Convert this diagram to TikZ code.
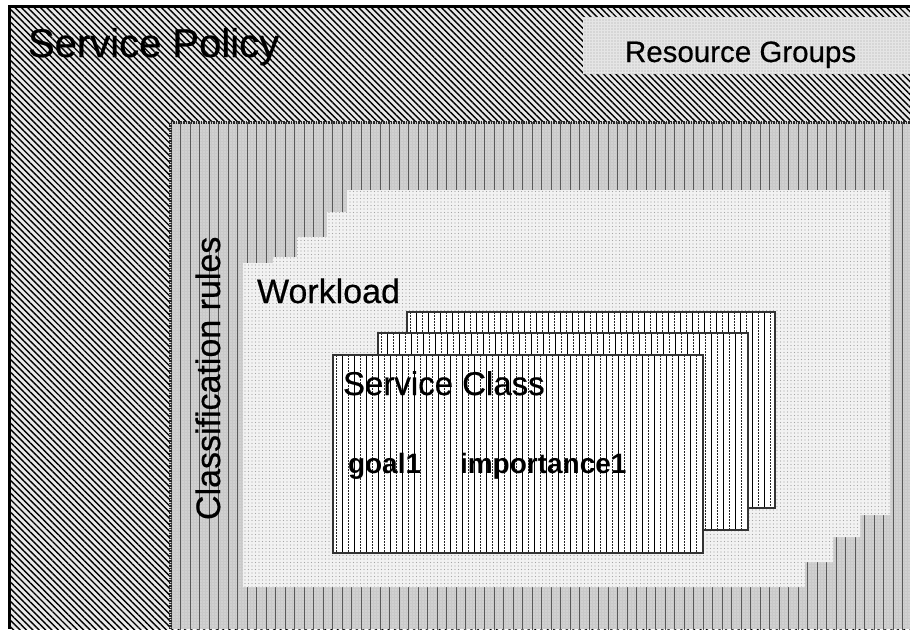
\documentclass[tikz,border=0pt]{standalone}
\usepackage{fontspec}
\setmainfont{Liberation Sans}
\newfontfamily\heavy{Liberation Sans}[FakeBold=0.5]
\usetikzlibrary{patterns.meta}
\tikzset{
  region/.style={inner sep=0pt, outer sep=0pt, anchor=north west},
  policyfill/.style={fill=gray!18, postaction={pattern={Lines[angle=-45,distance=4.5pt,line width=1.4pt]}, pattern color=black}},
  rgfill/.style={fill=gray!20, postaction={pattern={Dots[distance=3pt,radius=0.55pt]}, pattern color=gray!70}},
  classfill/.style={fill=gray!42, postaction={pattern={Dots[distance=3pt,radius=0.6pt]}, pattern color=gray!15},
     postaction={pattern={Lines[angle=90,distance=9.5pt,line width=0.5pt]}, pattern color=black!65}},
  workfill/.style={fill=gray!10, postaction={pattern={Dots[distance=3.5pt,radius=0.6pt]}, pattern color=gray!70}},
  cardbox/.style={region, fill=white},
  cardedge/.style={draw=black!80, line width=2.8pt},
  solidstripe/.style={black, line width=1pt},
  dashstripe/.style={black!85, line width=1pt, dash pattern=on 1.5pt off 1.5pt},
  lbl/.style={inner sep=0pt, outer sep=0pt, anchor=base west, text=black},
}
\newcommand\stripecard[5]{%
  \begin{scope}
    \clip (#2,#3) rectangle (#4,#5);
    \foreach \xx in {#2,...,#4} {
      \pgfmathtruncatemacro\mm{mod(round(\xx-#2),12)}
      \ifnum\mm=9 \draw[solidstripe] (\xx,#3) -- (\xx,#5);\fi
      \ifnum\mm=3 \draw[dashstripe] (\xx,#3) -- (\xx,#5);\fi
    }
  \end{scope}
  \draw[cardedge] (#1.north west) rectangle (#1.south east);
}
\begin{document}
\begin{tikzpicture}[x=1pt,y=-1pt]
\useasboundingbox (0,0) rectangle (910,629);
\fill[white] (0,0) rectangle (910,629);
% Service Policy area
\node[region, policyfill, minimum width=901pt, minimum height=623pt] (policy) at (9,6) {};
\draw[line width=3pt, black] (policy.south west) -- (policy.north west) -- (policy.north east);
% Resource Groups box
\node[region, rgfill, minimum width=327pt, minimum height=57pt] (rg) at (583,17) {};
% Classification rules area
\node[region, classfill, minimum width=740pt, minimum height=507pt] (class) at (170,122) {};
\draw[line width=3pt, black!85, dash pattern=on 1.5pt off 1pt] (class.south west) -- (class.north west) -- (class.north east);
% Workload area (stepped corners)
\path[workfill] (243,587) -- (805,587) -- (805,562) -- (833,562) -- (833,537) -- (860,537)
  -- (860,515) -- (890,515) -- (890,190) -- (347,190) -- (347,212) -- (327,212)
  -- (327,237) -- (297,237) -- (297,257) -- (273,257) -- (273,263) -- (243,263) -- cycle;
% Service class cards
\node[cardbox, minimum width=368pt, minimum height=196pt] (card3) at (407,312) {};
\stripecard{card3}{407}{312}{775}{508}
\node[cardbox, minimum width=370pt, minimum height=197pt] (card2) at (378,333) {};
\stripecard{card2}{378}{333}{748}{530}
\node[cardbox, minimum width=370pt, minimum height=198pt] (card1) at (333,355) {};
\stripecard{card1}{333}{355}{703}{553}
% Labels
\node[lbl, font=\heavy\fontsize{40}{40}\selectfont] (tpolicy) at (28,57) {Service Policy};
\node[lbl, font=\heavy\fontsize{29.5}{30}\selectfont] (trg) at (625,62) {Resource Groups};
\node[lbl, font=\heavy\fontsize{34}{34}\selectfont, rotate=90] (tclass) at (220,520) {Classification rules};
\node[lbl, font=\heavy\fontsize{34}{34}\selectfont] (twork) at (257,303) {Workload};
\node[lbl, font=\heavy\fontsize{33}{33}\selectfont] (tsc) at (343,395) {Service Class};
\node[lbl, font=\bfseries\fontsize{28}{28}\selectfont] (tgoal) at (348,473) {goal1};
\node[lbl, font=\bfseries\fontsize{28}{28}\selectfont] (timp) at (460,473) {importance1};
\end{tikzpicture}
\end{document}
